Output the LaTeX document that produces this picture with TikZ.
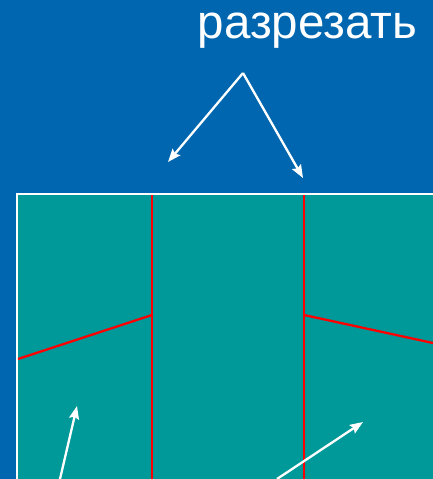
\documentclass[tikz,border=0pt]{standalone}
\usepackage{fontspec}
\setmainfont{Liberation Sans}
\usetikzlibrary{arrows.meta}
\definecolor{bgblue}{RGB}{0,102,176}
\definecolor{plate}{RGB}{0,153,153}
\definecolor{cutred}{RGB}{255,0,0}
\tikzset{
  pointer/.style={draw=white, line width=2.3pt, -{Stealth[length=13pt,width=10pt,inset=2pt]}},
  cutline/.style={draw=cutred, line width=2.3pt},
}
\begin{document}
\begin{tikzpicture}[x=1pt,y=-1pt]
\fill[bgblue] (0,0) rectangle (433,479);
\useasboundingbox (0,0) rectangle (433,479);
\fill[plate] (16,193) rectangle (433,479);
\draw[white, line width=2.3pt] (17,479) -- (17,194) -- (433,194);
% cut lines
\coordinate (v1t) at (152,195);
\coordinate (v1b) at (152,479);
\coordinate (v2t) at (304,195);
\coordinate (v2b) at (304,479);
\coordinate (l1) at (18,359);
\coordinate (l2) at (152,315);
\coordinate (r1) at (304,315);
\coordinate (r2) at (433,343);
\draw[cutline] (v1t) -- (v1b);
\draw[cutline] (v2t) -- (v2b);
\draw[cutline] (l1) -- (l2);
\draw[cutline] (r1) -- (r2);
% label
\node[text=white, font=\fontsize{47.5}{52}\selectfont, inner sep=0pt, anchor=base] (lbl) at (307.5,38) {разрезать};
\coordinate (apex) at (243,73);
\coordinate (tipL) at (168,162);
\coordinate (tipR) at (303,178);
\draw[pointer] (apex) -- (tipL);
\draw[pointer] (apex) -- (tipR);
% bottom arrows
\coordinate (b1s) at (60,479);
\coordinate (b1e) at (77,406);
\coordinate (b2s) at (277,479);
\coordinate (b2e) at (363,422);
\draw[pointer] (b1s) -- (b1e);
\draw[pointer] (b2s) -- (b2e);
\end{tikzpicture}
\end{document}
